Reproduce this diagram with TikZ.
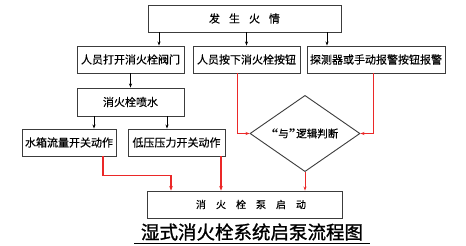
\documentclass[tikz,border=0pt]{standalone}
\usepackage{fontspec}
\setmainfont[FakeBold=0.4]{Noto Sans CJK SC}
\newfontfamily\titlefont[FakeBold=1.2]{Noto Sans CJK SC}
\newfontfamily\quotefont{Liberation Serif}
\usetikzlibrary{shapes.geometric,arrows.meta}
\definecolor{lred}{RGB}{235,40,40}
\definecolor{bline}{RGB}{60,60,60}
\tikzset{
  box/.style={draw=bline,line width=0.9bp,rectangle,inner sep=0pt,minimum height=27bp,font=\fontsize{11bp}{13bp}\selectfont},
  arr/.style={draw=black,line width=0.7bp,-{Stealth[length=4bp,width=3bp]}},
  rarr/.style={draw=lred,line width=0.8bp,-{Stealth[length=4bp,width=3bp]}},
  rarrb/.style={draw=lred,line width=1.6bp,-{Stealth[length=4.5bp,width=3.5bp]}},
}
\newcommand{\chsp}[1]{\hspace{#1bp}}
\begin{document}
\begin{tikzpicture}[x=1bp,y=-1bp]
\useasboundingbox[fill=white] (0,0) rectangle (466,245);
\node[box,minimum width=193bp] (fire) at (244.5,18.5) {发\chsp{9}生\chsp{9}火\chsp{9}情};
\node[box,minimum width=107bp] (open) at (130.5,59.5) {人员打开消火栓阀门};
\node[box,minimum width=107bp] (press) at (246.5,59.5) {人员按下消火栓按钮};
\node[box,minimum width=138bp] (detect) at (376,59.5) {探测器或手动报警按钮报警};
\node[box,minimum width=107bp,minimum height=28bp] (spray) at (130.5,102) {消火栓喷水};
\node[box,minimum width=94bp] (tank) at (69,142.5) {水箱流量开关动作};
\node[box,minimum width=97bp] (low) at (176.5,142.5) {低压压力开关动作};
\node[box,minimum width=195bp,font=\fontsize{10bp}{12bp}\selectfont] (pump) at (245,204.5) {\hspace{12bp}消\chsp{10}火\chsp{10}栓\chsp{10}泵\chsp{10}启\chsp{10}动};
\node[draw=bline,line width=0.9bp,diamond,inner sep=0pt,minimum width=110bp,minimum height=53bp,font=\fontsize{10.5bp}{12bp}\selectfont] (diam) at (305,133.5) {{\quotefont\fontsize{13bp}{12bp}\selectfont\bfseries “}与{\quotefont\fontsize{13bp}{12bp}\selectfont\bfseries ”}\hspace{1bp}逻辑判断};
\node[inner sep=0pt,font=\titlefont\fontsize{18.5bp}{20bp}\selectfont] (title) at (252,232) {湿式消火栓系统启泵流程图};
\draw[line width=1bp] ([xshift=-118bp,yshift=-11.5bp]title.center) coordinate (ul) -- ([xshift=118bp,yshift=-11.5bp]title.center) coordinate (ur);
% black arrows
\draw[arr] ([xshift=28.5bp]open.north |- fire.south) -- ([xshift=28.5bp]open.north);
\draw[arr] (press.north |- fire.south) -- (press.north);
\draw[arr] ([xshift=-49bp]detect.north |- fire.south) -- ([xshift=-49bp]detect.north);
\draw[arr] (open.south) -- (spray.north);
\draw[arr] ([xshift=25bp]tank.north |- spray.south) -- ([xshift=25bp]tank.north);
\draw[arr] ([xshift=-9.5bp]low.north |- spray.south) -- ([xshift=-9.5bp]low.north);
% red arrows
\draw[rarrb] ([xshift=34bp]tank.south) -- ++(0,19) -| ([xshift=-74bp]pump.north);
\draw[rarrb] ([xshift=44.5bp]low.south) -- ([xshift=44.5bp]low.south |- pump.north);
\draw[rarr] ([xshift=-9.5bp]press.south) |- (diam.west);
\draw[rarr] ([xshift=-3bp]detect.south) |- (diam.east);
\draw[rarr] (diam.south) -- (diam.south |- pump.north);
\end{tikzpicture}
\end{document}
